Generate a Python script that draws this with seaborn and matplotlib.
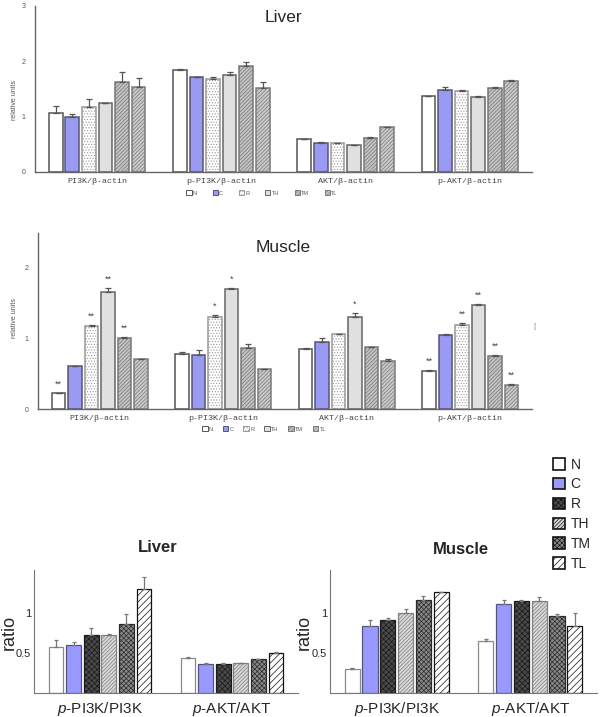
import matplotlib
matplotlib.use("Agg")
import matplotlib.pyplot as plt
import matplotlib.patches as mpatches
import numpy as np
import pandas as pd
import seaborn as sns

groups = ["N", "C", "R", "TH", "TM", "TL"]

# upper figures (western blot densitometry, relative units)
top_markers = ["PI3K/β-actin", "p-PI3K/β-actin", "AKT/β-actin", "p-AKT/β-actin"]
liver_top = [[1.07, 1.00, 1.18, 1.24, 1.63, 1.54],
             [1.85, 1.71, 1.68, 1.75, 1.92, 1.51],
             [0.59, 0.53, 0.52, 0.48, 0.62, 0.81],
             [1.37, 1.49, 1.47, 1.36, 1.52, 1.65]]
liver_top_err = [[0.12, 0.04, 0.14, 0.01, 0.17, 0.15],
                 [0.01, 0.01, 0.04, 0.06, 0.07, 0.11],
                 [0.01, 0.01, 0.01, 0.01, 0.01, 0.01],
                 [0.01, 0.04, 0.01, 0.02, 0.01, 0.01]]
muscle_top = [[0.23, 0.61, 1.17, 1.65, 1.00, 0.70],
              [0.77, 0.76, 1.30, 1.69, 0.86, 0.56],
              [0.85, 0.95, 1.05, 1.30, 0.88, 0.67],
              [0.54, 1.04, 1.18, 1.47, 0.75, 0.34]]
muscle_top_err = [[0.00, 0.00, 0.01, 0.05, 0.01, 0.01],
                  [0.03, 0.07, 0.03, 0.01, 0.05, 0.01],
                  [0.01, 0.05, 0.01, 0.05, 0.00, 0.03],
                  [0.01, 0.01, 0.03, 0.01, 0.01, 0.01]]
muscle_stars = [["**", "", "**", "**", "**", ""],
                ["", "", "*", "*", "", ""],
                ["", "", "", "*", "", ""],
                ["**", "", "**", "**", "**", "**"]]

# lower figures (ratios)
ratio_markers = ["$p$-PI3K/PI3K", "$p$-AKT/AKT"]
liver_ratio = [[0.58, 0.60, 0.72, 0.72, 0.87, 1.30],
               [0.44, 0.36, 0.365, 0.37, 0.42, 0.50]]
liver_ratio_err = [[0.08, 0.04, 0.09, 0.02, 0.12, 0.15],
                   [0.01, 0.01, 0.005, 0.01, 0.01, 0.01]]
muscle_ratio = [[0.30, 0.84, 0.92, 1.00, 1.17, 1.26],
                [0.65, 1.12, 1.15, 1.15, 0.97, 0.84]]
muscle_ratio_err = [[0.01, 0.07, 0.02, 0.05, 0.04, 0.00],
                    [0.02, 0.04, 0.01, 0.05, 0.02, 0.16]]

plt.rcParams["mathtext.fontset"] = "custom"
plt.rcParams["mathtext.it"] = "Liberation Sans:italic"
plt.rcParams["mathtext.rm"] = "Liberation Sans"
plt.rcParams["hatch.linewidth"] = 0.5

# (face, hatch, edge)
top_style = {"N": ("white", "", "#555555"),
             "C": ("#9a9af2", "", "#555577"),
             "R": ("white", "......", "#999999"),
             "TH": ("#e0e0e0", "", "#666666"),
             "TM": ("#c4c4c4", "/////////", "#777777"),
             "TL": ("#cacaca", "/////////", "#7a7a7a")}
bot_style = {"N": ("white", "", "#8a8a8a"),
             "C": ("#9999ff", "", "#55557a"),
             "R": ("#4a4a4a", "xxxxxx", "#1a1a1a"),
             "TH": ("#d8d8d8", "/////////", "#808080"),
             "TM": ("#8a8a8a", "xxxxxxx", "#2a2a2a"),
             "TL": ("white", "/////", "#111111")}


def make_df(markers, values):
    rows = []
    for m, vals in zip(markers, values):
        for g, v in zip(groups, vals):
            rows.append({"marker": m, "group": g, "value": v})
    return pd.DataFrame(rows)


def draw_bars(ax, markers, values, errors, style, gap, lw, capsize, ecolor):
    df = make_df(markers, values)
    sns.barplot(data=df, x="marker", y="value", hue="group", order=markers,
                hue_order=groups, palette={g: style[g][0] for g in groups},
                saturation=1, width=0.8, gap=gap, errorbar=None, legend=False,
                linewidth=lw, ax=ax)
    for i, g in enumerate(groups):
        face, hatch, edge = style[g]
        cont = ax.containers[i]
        xs, hs = [], []
        for p in cont:
            p.set_facecolor(face)
            p.set_edgecolor(edge)
            p.set_hatch(hatch)
            xs.append(p.get_x() + p.get_width() / 2)
            hs.append(p.get_height())
        err = [errors[k][i] for k in range(len(markers))]
        ax.errorbar(xs, hs, yerr=[np.zeros(len(err)), err], fmt="none",
                    ecolor=ecolor, elinewidth=0.9, capsize=capsize, capthick=0.9,
                    zorder=3)
    ax.set_xlim(-0.5, len(markers) - 0.5)
    ax.set_xlabel("")
    ax.set_ylabel("")
    return ax


def style_top(ax, ymax, yticks):
    ax.set_ylim(0, ymax)
    ax.set_yticks(yticks)
    ax.set_yticklabels([str(t) for t in yticks], fontsize=5, color="#555555")
    ax.tick_params(axis="y", direction="in", length=2.5, width=0.6, color="#666666", pad=7)
    ax.set_xticks(range(4))
    ax.set_xticklabels(top_markers, fontsize=6, family="Liberation Mono", color="#444444")
    ax.tick_params(axis="x", length=0, pad=4)
    ax.set_xticks([0.5, 1.5, 2.5], minor=True)
    ax.tick_params(axis="x", which="minor", length=2, width=0.8, color="#666666")
    for s in ["top", "right"]:
        ax.spines[s].set_visible(False)
    for s in ["left", "bottom"]:
        ax.spines[s].set_color("#666666")
        ax.spines[s].set_linewidth(1.0)


def style_bottom(ax):
    ax.set_ylim(0, 1.54)
    ax.set_yticks([0.5, 1])
    ax.set_yticklabels(["0.5", "1"], fontsize=8)
    ax.tick_params(axis="y", length=0, pad=2)
    ax.set_xticks(range(2))
    ax.set_xticklabels(ratio_markers, fontsize=11)
    ax.tick_params(axis="x", length=0, pad=5)
    ax.set_xticks([0.5], minor=True)
    ax.tick_params(axis="x", which="minor", length=3, width=0.7, color="#777777")
    for s in ["top", "right"]:
        ax.spines[s].set_visible(False)
    for s in ["left", "bottom"]:
        ax.spines[s].set_color("#777777")
        ax.spines[s].set_linewidth(0.8)


sns.set_style("white")
plt.rcParams["font.family"] = ["Liberation Sans", "DejaVu Sans"]

fig = plt.figure(figsize=(6, 7.17), dpi=100)
W, H = 600, 717


def axes_px(left, right, top, bottom):
    return fig.add_axes([left / W, 1 - bottom / H, (right - left) / W, (bottom - top) / H])


small_handles = [mpatches.Patch(facecolor=top_style[g][0], hatch=top_style[g][1],
                                edgecolor=top_style[g][2], linewidth=0.7) for g in groups]

# Liver (upper)
ax1 = axes_px(35, 532, 6, 172)
draw_bars(ax1, top_markers, liver_top, liver_top_err, top_style, 0.18, 1.1, 2.5, "#555555")
style_top(ax1, 3.0, [0, 1, 2, 3])
fig.text(283 / W, 1 - 17 / H, "Liver", fontsize=12.5, ha="center", va="center")
fig.text(15 / W, 1 - 100 / H, "relative units", fontsize=5, rotation=90,
         ha="center", va="center", color="#555555")
fig.legend(small_handles, groups, loc="center", bbox_to_anchor=(262 / W, 1 - 193 / H),
           ncol=6, fontsize=4, frameon=False, handlelength=1.0, handleheight=1.0,
           handletextpad=0.2, columnspacing=2.8, labelcolor="#555555")

# Muscle (upper)
ax2 = axes_px(38, 532, 233, 409)
draw_bars(ax2, top_markers, muscle_top, muscle_top_err, top_style, 0.18, 1.1, 2.5, "#555555")
style_top(ax2, 2.48, [0, 1, 2])
for i, g in enumerate(groups):
    for k, p in enumerate(ax2.containers[i]):
        star = muscle_stars[k][i]
        if star:
            top = p.get_height() + muscle_top_err[k][i]
            ax2.text(p.get_x() + p.get_width() / 2, top + 0.06, star, ha="center",
                     va="bottom", fontsize=6.5, color="#444444")
fig.text(283 / W, 1 - 248 / H, "Muscle", fontsize=12.5, ha="center", va="center")
fig.text(15 / W, 1 - 318 / H, "relative units", fontsize=5, rotation=90,
         ha="center", va="center", color="#555555")
fig.legend(small_handles, groups, loc="center", bbox_to_anchor=(264 / W, 1 - 429 / H),
           ncol=6, fontsize=4, frameon=False, handlelength=1.0, handleheight=1.0,
           handletextpad=0.2, columnspacing=1.8, labelcolor="#555555")
fig.text(535 / W, 1 - 327 / H, "[", fontsize=6, color="#999999", ha="center", va="center")

# Liver (lower)
ax3 = axes_px(34, 298, 570, 693)
draw_bars(ax3, ratio_markers, liver_ratio, liver_ratio_err, bot_style, 0.15, 0.9, 1.5, "#777777")
style_bottom(ax3)
fig.text(158 / W, 1 - 548 / H, "Liver", fontsize=12, fontweight="bold", ha="center", va="center")
fig.text(9 / W, 1 - 632 / H, "ratio", fontsize=13, rotation=90, ha="center", va="center")

# Muscle (lower)
ax4 = axes_px(330, 597, 570, 693)
draw_bars(ax4, ratio_markers, muscle_ratio, muscle_ratio_err, bot_style, 0.15, 0.9, 1.5, "#777777")
style_bottom(ax4)
fig.text(461 / W, 1 - 549 / H, "Muscle", fontsize=12, fontweight="bold", ha="center", va="center")
fig.text(304 / W, 1 - 632 / H, "ratio", fontsize=13, rotation=90, ha="center", va="center")

big_handles = [mpatches.Patch(facecolor=bot_style[g][0], hatch=bot_style[g][1],
                              edgecolor="#111111", linewidth=1.2) for g in groups]
fig.legend(big_handles, groups, loc="upper left", bbox_to_anchor=(547 / W, 1 - 452 / H),
           fontsize=10, frameon=False, handlelength=0.9, handleheight=0.9,
           handletextpad=0.4, labelspacing=0.42, borderaxespad=0)

fig.savefig("out.png", dpi=100)
